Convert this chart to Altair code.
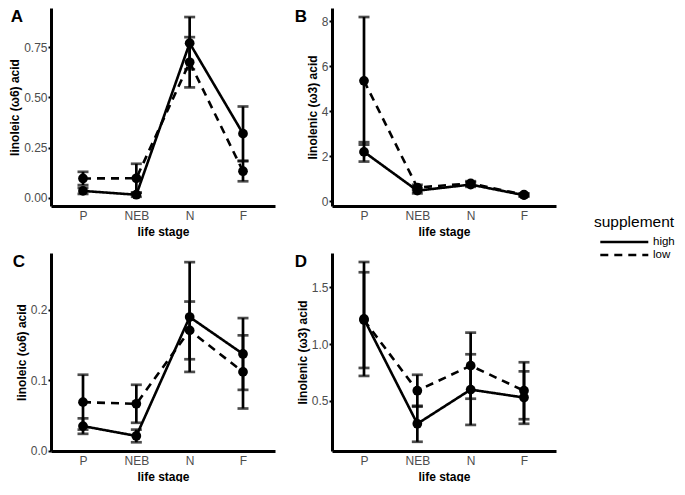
import altair as alt
import pandas as pd

stages = ["P", "NEB", "N", "F"]
supplements = ["high", "low"]
panel_ids = ["A", "B", "C", "D"]
y_titles = ["linoleic (ω6) acid", "linolenic (ω3) acid", "linoleic (ω6) acid", "linolenic (ω3) acid"]

A_high_mean = [0.035, 0.016, 0.77, 0.32]
A_high_err = [0.015, 0.010, 0.13, 0.135]
A_low_mean = [0.097, 0.098, 0.675, 0.133]
A_low_err = [0.033, 0.072, 0.125, 0.05]

B_high_mean = [2.2, 0.48, 0.75, 0.28]
B_high_err = [0.43, 0.12, 0.1, 0.06]
B_low_mean = [5.35, 0.62, 0.8, 0.3]
B_low_err = [2.83, 0.12, 0.1, 0.06]

C_high_mean = [0.035, 0.021, 0.190, 0.1375]
C_high_err = [0.011, 0.009, 0.078, 0.051]
C_low_mean = [0.069, 0.0667, 0.171, 0.112]
C_low_err = [0.039, 0.027, 0.041, 0.052]

D_high_mean = [1.22, 0.30, 0.60, 0.53]
D_high_err = [0.50, 0.158, 0.31, 0.23]
D_low_mean = [1.21, 0.59, 0.81, 0.59]
D_low_err = [0.42, 0.14, 0.29, 0.25]

y_domains = [[-0.04, 0.945], [-0.2, 8.58], [-0.0004, 0.281], [0.061, 1.799]]
y_ticks = [[0, 0.25, 0.5, 0.75], [0, 2, 4, 6, 8], [0, 0.1, 0.2], [0.5, 1.0, 1.5]]
y_formats = [".2f", "d", ".1f", ".1f"]
letter_x = [-34, -31, -32, -31]

series = {
    "A": (A_high_mean, A_high_err, A_low_mean, A_low_err),
    "B": (B_high_mean, B_high_err, B_low_mean, B_low_err),
    "C": (C_high_mean, C_high_err, C_low_mean, C_low_err),
    "D": (D_high_mean, D_high_err, D_low_mean, D_low_err),
}

FONT = "Liberation Sans"
W, H = 224, 198


def panel(i):
    pid = panel_ids[i]
    hm, he, lm, le = series[pid]
    rows = []
    for sup, m, e in (("high", hm, he), ("low", lm, le)):
        for s, mv, ev in zip(stages, m, e):
            rows.append({"stage": s, "supplement": sup, "mean": mv, "lo": mv - ev, "hi": mv + ev})
    df = pd.DataFrame(rows)

    x = alt.X("stage:N", sort=stages, scale=alt.Scale(type="point", padding=0.6),
              axis=alt.Axis(title="life stage", labelAngle=0, ticks=False, labelPadding=4, titlePadding=5))
    yscale = alt.Scale(domain=y_domains[i], nice=False, zero=False)
    yaxis = alt.Axis(title=y_titles[i], values=y_ticks[i], format=y_formats[i],
                     tickSize=3, labelPadding=1, titlePadding=2)
    base = alt.Chart(df).encode(x=x)

    line = base.mark_line(color="black", strokeWidth=2.6).encode(
        y=alt.Y("mean:Q", scale=yscale, axis=yaxis),
        strokeDash=alt.StrokeDash(
            "supplement:N",
            scale=alt.Scale(domain=supplements, range=[[1, 0], [8, 6]]),
            legend=alt.Legend(title="supplement", orient="none", legendX=543, legendY=207,
                              symbolType="M-0.2,0H7.8", symbolSize=144, symbolStrokeWidth=2.6,
                              symbolStrokeColor="black", labelFontSize=11.5, titleFontSize=15.5,
                              titleFontWeight="normal", titleColor="black", labelColor="black",
                              labelOffset=44, rowPadding=0, titlePadding=4,
                              titleFont=FONT, labelFont=FONT),
        ),
    )
    rules = base.mark_rule(color="black", strokeWidth=2.7).encode(y=alt.Y("lo:Q"), y2="hi:Q")
    cap_lo = base.mark_tick(color="black", size=11, thickness=2.7, orient="horizontal").encode(y="lo:Q")
    cap_hi = base.mark_tick(color="black", size=11, thickness=2.7, orient="horizontal").encode(y="hi:Q")
    pts = base.mark_circle(color="black", size=95, opacity=1).encode(y="mean:Q")
    letter = alt.Chart(pd.DataFrame({"t": [pid]})).mark_text(
        fontSize=17, fontWeight="bold", font=FONT, color="black", align="center", baseline="middle"
    ).encode(text="t:N", x=alt.value(letter_x[i]), y=alt.value(9))
    return alt.layer(line, rules, cap_lo, cap_hi, pts, letter).resolve_scale(y="shared").properties(width=W, height=H)


chart = alt.concat(*[panel(i) for i in range(4)], columns=2, spacing={"row": 16, "column": 19}).resolve_scale(
    y="independent"
).properties(padding={"left": 0, "top": 0, "right": 0, "bottom": 0}).configure_view(stroke=None).configure_axis(
    grid=False, domainColor="black", domainWidth=3, tickColor="black", tickWidth=2, tickSize=4,
    labelColor="#4d4d4d", labelFont=FONT, labelFontSize=12, labelPadding=2,
    titleFont=FONT, titleFontSize=12, titleFontWeight="bold", titleColor="black", titlePadding=3,
)

chart.save("out.html", embed_options={"renderer": "svg", "actions": False})
